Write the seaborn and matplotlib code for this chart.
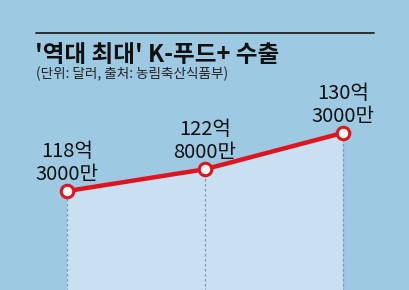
import matplotlib
matplotlib.use("Agg")
import matplotlib.pyplot as plt
import seaborn as sns
import pandas as pd

years = ["2021", "2022", "2023"]
values = [118.3, 122.8, 130.3]
label_top = ["118억", "122억", "130억"]
label_bottom = ["3000만", "8000만", "3000만"]
title = "'역대 최대' K-푸드+ 수출"
subtitle = "(단위: 달러, 출처: 농림축산식품부)"

sns.set_theme(style="white")
plt.rcParams['font.family'] = ['Noto Sans CJK KR', 'DejaVu Sans']

bg = "#9dc9e3"
fill = "#c8e0f0"
red = "#e0141e"

fig = plt.figure(figsize=(4.1, 2.9), dpi=100)
fig.patch.set_facecolor(bg)
ax = fig.add_axes([0, 0, 1, 1])
ax.set_facecolor(bg)

df = pd.DataFrame({"x": range(len(years)), "v": values})
ax.fill_between(df["x"], df["v"], 0, color=fill, zorder=1, linewidth=0)
ax.vlines(df["x"], 0, df["v"], colors="#7f98ad", linestyles=(0, (2, 2)), linewidth=0.9, zorder=2)
sns.lineplot(data=df, x="x", y="v", ax=ax, color=red, linewidth=3.2, marker="o",
             markersize=9, markerfacecolor="white", markeredgecolor=red,
             markeredgewidth=2.2, zorder=3)

for xi, v, t, b in zip(df["x"], values, label_top, label_bottom):
    ax.text(xi, v + 2.3, b, ha="center", va="baseline", fontsize=14.5, color="#111111")
    ax.text(xi, v + 7.0, t, ha="center", va="baseline", fontsize=14.5, color="#111111")

ax.set_xlim(-0.486, 2.486)
ax.set_ylim(97.9, 157.7)
ax.axis("off")

fig.add_artist(plt.Line2D([36/410, 374/410], [1 - 33/290, 1 - 33/290],
                          color="#222222", linewidth=1.3))
fig.text(35/410, 1 - 62/290, title, fontsize=17, fontweight="bold",
         color="#111111", va="baseline", ha="left")
fig.text(36/410, 1 - 78/290, subtitle, fontsize=9.8, color="#222222",
         va="baseline", ha="left")

fig.savefig("out.png", dpi=100, facecolor=bg)
